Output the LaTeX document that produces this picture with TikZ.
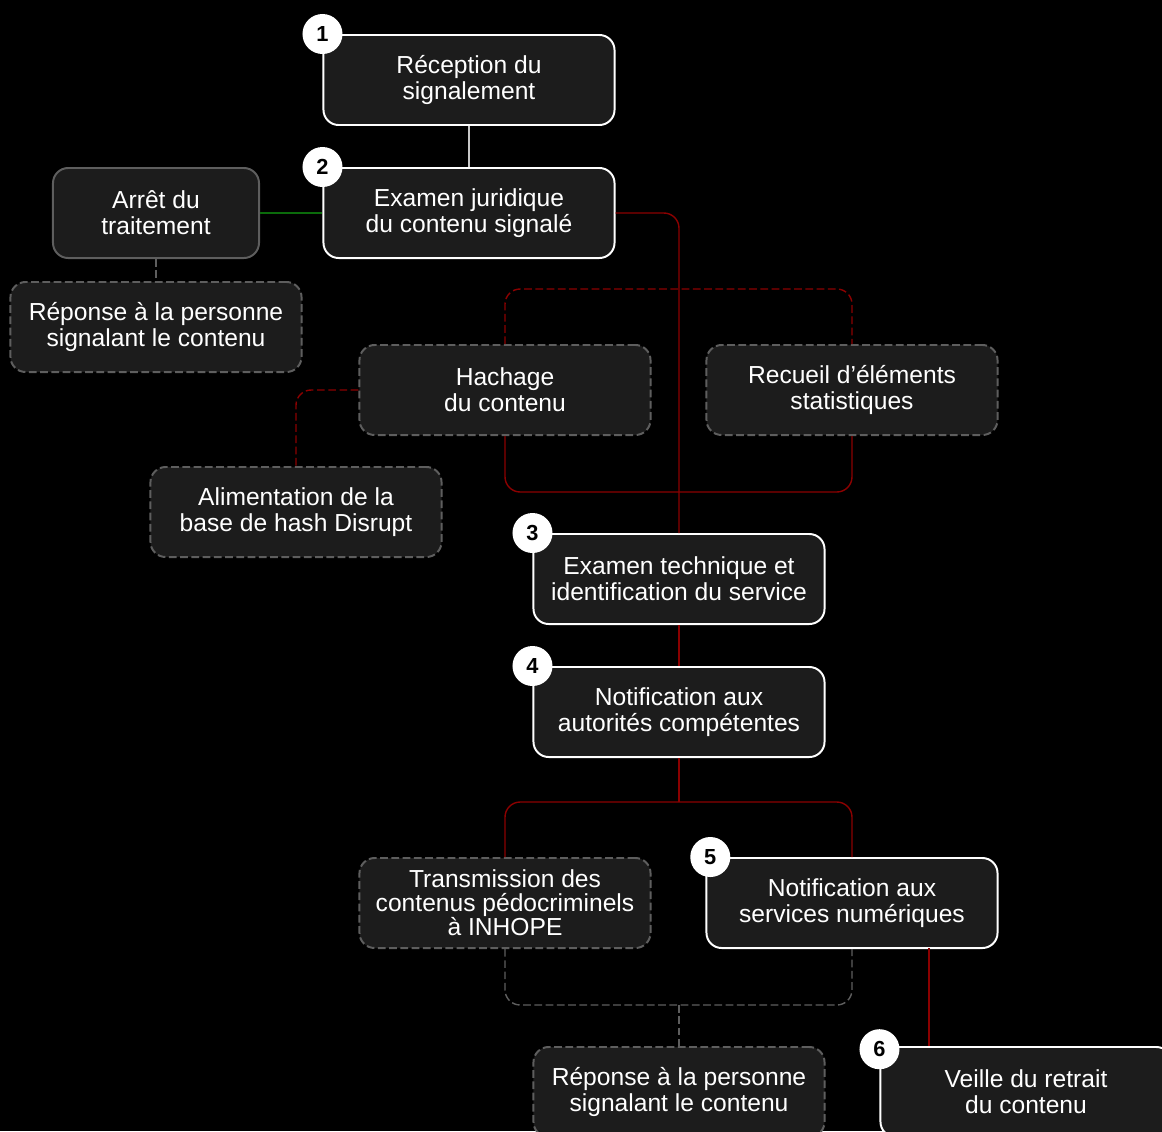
\documentclass[tikz,border=0pt]{standalone}
\usepackage{fontspec}
\setmainfont{Liberation Sans}
\definecolor{boxfill}{HTML}{1C1C1C}
\definecolor{boxgray}{HTML}{5E5E5E}
\definecolor{linkred}{HTML}{8B0000}
\definecolor{linkgreen}{HTML}{0B6B0B}
\definecolor{linkgray}{HTML}{C8C8C8}
\begin{document}
\begin{tikzpicture}[x=0.025cm,y=-0.025cm,stage/.style={shape=rectangle,rounded corners=0.38cm,fill=boxfill,draw=white,line width=1.4pt,minimum width=7.275cm,minimum height=2.25cm,inner sep=0pt,align=center,text=white,font=\fontsize{17.5}{18.5}\selectfont},stageD/.style={stage,draw=boxgray,dash pattern=on 5.5pt off 2.5pt},stageG/.style={stage,draw=boxgray},num/.style={shape=circle,fill=white,minimum size=1cm,inner sep=0pt,font=\fontsize{15.5}{15.5}\bfseries\selectfont},link/.style={line width=1pt,rounded corners=0.38cm}]
\def\xa{469};
\def\xb{679};
\def\xl{505};
\def\xr{852};

\clip (0,0) rectangle (1162,1131);
\fill[black] (0,0) rectangle (1162,1131);

\node[stage] (rec) at (\xa,80) {Réception du\\signalement};
\node[stage] (exj) at (\xa,213) {Examen juridique\\du contenu signalé};
\draw[link,linkgray] (rec.south) -- (exj.north);

\node[stageG,minimum width=5.15cm] (arr) at (156,213) {Arrêt du\\traitement};
\draw[link,linkgreen] (arr.east) -- (exj.west);
\node[stageD] (repA) at (156,327) {Réponse à la personne\\signalant le contenu};
\draw[link,boxgray,dash pattern=on 5.5pt off 2.5pt] (arr.south) -- (repA.north);

\node[stageD] (hach) at (\xl,390) {Hachage\\du contenu};
\node[stageD] (stat) at (\xr,390) {Recueil d’éléments\\statistiques};
\coordinate (hT) at (\xb,289);
\coordinate (hB) at (\xb,492);
\draw[link,linkred,dash pattern=on 5.5pt off 2.5pt] (hach.north) |- (hT) -| (stat.north);
\draw[link,linkred] (hach.south) |- (hB) -| (stat.south);

\node[stageD] (ali) at (296,512) {Alimentation de la\\base de hash Disrupt};
\draw[link,linkred,dash pattern=on 5.5pt off 2.5pt] (hach.west) -| (ali.north);

\node[stage] (ext) at (\xb,579) {Examen technique et\\identification du service};
\draw[link,linkred] (exj.east) -| (ext.north);
\node[stage] (nau) at (\xb,712) {Notification aux\\autorités compétentes};
\draw[link,linkred] (ext.south) -- (nau.north);

\node[stageD,font=\fontsize{17.5}{17.2}\selectfont] (tra) at (\xl,903) {Transmission des\\contenus pédocriminels\\à INHOPE};
\node[stage] (nsn) at (\xr,903) {Notification aux\\services numériques};
\coordinate (nB) at (\xb,802);
\draw[link,linkred] (nau.south) -- (nB);
\draw[link,linkred] (tra.north) |- (nB) -| (nsn.north);

\node[stageD] (repB) at (\xb,1092) {Réponse à la personne\\signalant le contenu};
\coordinate (tB) at (\xb,1005);
\draw[link,boxgray,dash pattern=on 5.5pt off 2.5pt] (tra.south) |- (tB) -| (nsn.south);
\draw[link,boxgray,dash pattern=on 5.5pt off 2.5pt] (tB) -- (repB.north);

\node[stage] (vei) at (1026,1092) {Veille du retrait\\du contenu};
\coordinate (vS) at (929,948);
\draw[link,linkred] (vS) -- (vS |- vei.north);

% numbered steps
\node[num] (n1) at (rec.north west) {1};
\node[num] (n2) at (exj.north west) {2};
\node[num] (n3) at (ext.north west) {3};
\node[num] (n4) at (nau.north west) {4};
\node[num] (n5) at ([xshift=0.12cm]nsn.north west) {5};
\node[num] (n6) at ([yshift=-0.08cm]vei.north west) {6};
\end{tikzpicture}
\end{document}
